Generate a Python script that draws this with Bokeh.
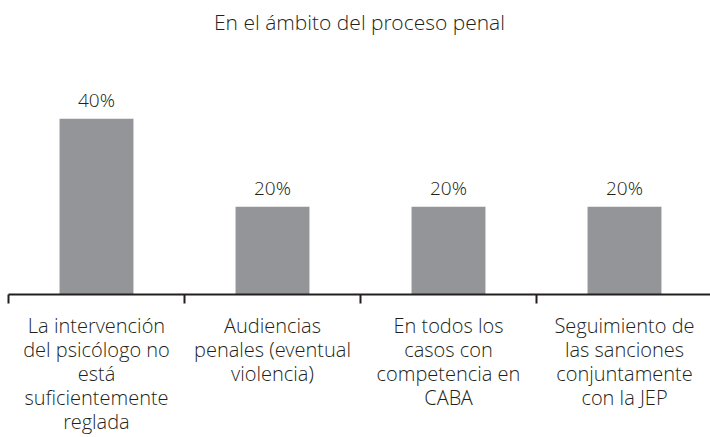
from bokeh.plotting import figure
from bokeh.models import Range1d, LinearAxis, FixedTicker, ColumnDataSource
from bokeh.embed import file_html
from bokeh.resources import INLINE
from bokeh.core.properties import value

title_text = "En el ámbito del proceso penal"
categories = [
    "La intervención\ndel psicólogo no\nestá\nsuficientemente\nreglada",
    "Audiencias\npenales (eventual\nviolencia)",
    "En todos los\ncasos con\ncompetencia en\nCABA",
    "Seguimiento de\nlas sanciones\nconjuntamente\ncon la JEP",
]
values = [40, 20, 20, 20]
value_labels = ["40%", "20%", "20%", "20%"]

FONT = "Open Sans Light, Open Sans"
TEXT_COLOR = "#231f20"
BAR_COLOR = "#939598"

n = len(categories)
centers = [i + 0.5 for i in range(n)]
boundaries = [float(i) for i in range(n + 1)]

src = ColumnDataSource(dict(x=centers, top=values, label=value_labels))

p = figure(width=710, height=437, output_backend="svg", toolbar_location=None,
           x_range=Range1d(0, 702 / 176), y_range=Range1d(0, 57.85),
           x_axis_location=None, y_axis_location=None,
           min_border_left=8, min_border_right=0, min_border_top=40, min_border_bottom=141)
p.outline_line_color = None
p.xgrid.visible = False
p.ygrid.visible = False

p.title.text = title_text
p.title.align = "center"
p.title.text_font = FONT
p.title.text_font_style = "normal"
p.title.text_font_size = "21px"
p.title.text_color = TEXT_COLOR

p.vbar(x="x", top="top", bottom=0, width=0.42, source=src,
       fill_color=BAR_COLOR, line_color=None)
p.text(x="x", y="top", text="label", source=src, y_offset=-19,
       text_align="center", text_baseline="alphabetic",
       text_font=value(FONT), text_font_size="19px", text_color=TEXT_COLOR)

ax = LinearAxis(ticker=FixedTicker(ticks=centers, minor_ticks=boundaries))
ax.major_label_overrides = {c: lab for c, lab in zip(centers, categories)}
ax.major_tick_line_color = None
ax.minor_tick_in = 0
ax.minor_tick_out = 9
ax.minor_tick_line_color = TEXT_COLOR
ax.minor_tick_line_width = 2
ax.axis_line_color = TEXT_COLOR
ax.axis_line_width = 2
ax.major_label_standoff = 8
ax.major_label_text_font = FONT
ax.major_label_text_font_size = "20px"
ax.major_label_text_color = TEXT_COLOR
ax.major_label_text_align = "center"
ax.major_label_text_line_height = 0.89
p.add_layout(ax, "below")

open("out.html", "w").write(file_html(p, INLINE))
